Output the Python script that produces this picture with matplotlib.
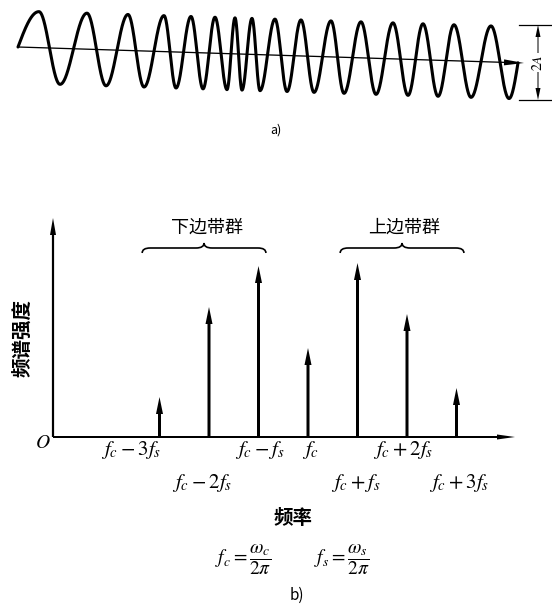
import numpy as np
import matplotlib
matplotlib.use("Agg")
import matplotlib.pyplot as plt
from matplotlib.path import Path
from matplotlib.patches import PathPatch

plt.rcParams['font.family'] = ['Noto Sans CJK SC', 'DejaVu Sans']
plt.rcParams['mathtext.fontset'] = 'stix'

# --- a) FM waveform: x positions of alternating peaks / troughs (read off the picture)
wave_start = 18
wave_extrema = [39, 60, 87, 106, 128, 144, 164, 176, 191, 203, 215, 227, 235, 242,
                252, 260, 275, 287, 301, 314, 331, 344, 361, 376, 393, 408, 423, 438,
                454, 471, 491, 509]
wave_end = 518
wave_amp = 36
axis_left = (18, 47)
axis_right = (524, 63)

# --- b) spectrum
orders = [-3, -2, -1, 0, 1, 2, 3]
amplitudes = [40, 130, 171, 89, 174, 123, 49]
tick_labels = [r'$f_c-3f_s$', r'$f_c-2f_s$', r'$f_c-f_s$', r'$f_c$',
               r'$f_c+f_s$', r'$f_c+2f_s$', r'$f_c+3f_s$']
label_row = [0, 1, 0, 0, 1, 0, 1]
label_shift = [-0.57, -0.14, 0.02, 0.06, -0.04, -0.08, 0.06]
groups = [('下边带群', -2), ('上边带群', 2)]

fig = plt.figure(figsize=(5.52, 6.11), dpi=100)

# ---------------- a)
ax_a = fig.add_axes([0, 411 / 611, 1, 200 / 611])
ax_a.set_xlim(0, 552)
ax_a.set_ylim(200, 0)
ax_a.axis('off')

ext = np.array(wave_extrema, dtype=float)
knots_x = np.concatenate([[wave_start], ext])
knots_ph = np.concatenate([[0.0], np.pi / 2 + np.pi * np.arange(len(ext))])
t = np.linspace(wave_start, wave_end, 4000)
slope_last = np.pi / (ext[-1] - ext[-2])
phase = np.where(t <= ext[-1], np.interp(t, knots_x, knots_ph),
                 knots_ph[-1] + (t - ext[-1]) * slope_last)
tilt = (axis_right[1] - axis_left[1]) / (axis_right[0] - axis_left[0])
centre = axis_left[1] + tilt * (t - axis_left[0])
ax_a.plot(t, centre - wave_amp * np.sin(phase), color='black', lw=2.2,
          solid_capstyle='round')

ax_a.arrow(axis_left[0], axis_left[1], axis_right[0] - axis_left[0],
           axis_right[1] - axis_left[1], width=1.3, head_width=6, head_length=20,
           length_includes_head=True, color='black', lw=0)

# 2A dimension
top_y, bot_y = 25, 100
ax_a.plot([519, 552], [top_y, top_y], color='black', lw=0.9)
ax_a.plot([519, 552], [bot_y, bot_y], color='black', lw=0.9)
mid = (top_y + bot_y) / 2
for yy in (top_y, bot_y):
    ax_a.arrow(538, mid, 0, yy - mid, width=1.0, head_width=5, head_length=12,
               length_includes_head=True, color='black', lw=0)
ax_a.text(538, mid, r'$2A$', rotation=90, ha='center', va='center', fontsize=10,
          bbox=dict(facecolor='white', edgecolor='none', pad=0.5))
ax_a.text(276, 130, 'a)', ha='center', va='center', fontsize=9)

# ---------------- b)
dx = 49.5
x0_px = 308
base_px = 437
ax_b = fig.add_axes([0, 0, 1, 411 / 611])
ax_b.set_xlim(-x0_px / dx, (552 - x0_px) / dx)
ax_b.set_ylim(base_px - 611, base_px - 200)
ax_b.axis('off')

x_left = (53 - x0_px) / dx
x_right = (515 - x0_px) / dx
ax_b.arrow(x_left, 0, x_right - x_left, 0, width=2.0, head_width=5,
           head_length=18 / dx, length_includes_head=True, color='black', lw=0)
ax_b.arrow(x_left, 0, 0, 219, width=2.2 / dx, head_width=6 / dx, head_length=17,
           length_includes_head=True, color='black', lw=0)
ax_b.text(x_left - 0.2, -5, r'$O$', ha='center', va='center', fontsize=14)

for k, a in zip(orders, amplitudes):
    ax_b.arrow(k, 0, 0, a, width=3.0 / dx, head_width=7 / dx, head_length=17,
               length_includes_head=True, color='black', lw=0)

for k, lab, row, sh in zip(orders, tick_labels, label_row, label_shift):
    ax_b.text(k + sh, -13 - 33 * row, lab, ha='center', va='center', fontsize=15)


def brace(ax, xc, half, y, h=5):
    e = 8 / dx
    x0, x1 = xc - half, xc + half
    verts = [(x0, y - h), (x0, y), (x0 + e, y), (xc - e, y), (xc, y), (xc, y + h),
             (xc, y), (xc + e, y), (x1 - e, y), (x1, y), (x1, y - h)]
    codes = [Path.MOVETO, Path.CURVE3, Path.CURVE3, Path.LINETO, Path.CURVE3,
             Path.CURVE3, Path.CURVE3, Path.CURVE3, Path.LINETO, Path.CURVE3,
             Path.CURVE3]
    ax.add_patch(PathPatch(Path(verts, codes), facecolor='none',
                           edgecolor='black', lw=1.2))


for name, kc in groups:
    brace(ax_b, kc - 0.1, 1.25, base_px - 248)
    ax_b.text(kc - 0.05, base_px - 228, name, ha='center', va='center', fontsize=13)

ax_b.text(x_left - 0.62, base_px - 338, '频谱强度', rotation=90, ha='center',
          va='center', fontsize=14, fontweight='bold')
ax_b.text((293 - x0_px) / dx, base_px - 518, '频率', ha='center', va='center',
          fontsize=14, fontweight='bold')
ax_b.text((243 - x0_px) / dx, base_px - 560, r'$f_c=\dfrac{\omega_c}{2\pi}$',
          ha='center', va='center', fontsize=14)
ax_b.text((342 - x0_px) / dx, base_px - 560, r'$f_s=\dfrac{\omega_s}{2\pi}$',
          ha='center', va='center', fontsize=14)
ax_b.text((297 - x0_px) / dx, base_px - 595, 'b)', ha='center', va='center',
          fontsize=11)

fig.savefig('out.png', dpi=100)
